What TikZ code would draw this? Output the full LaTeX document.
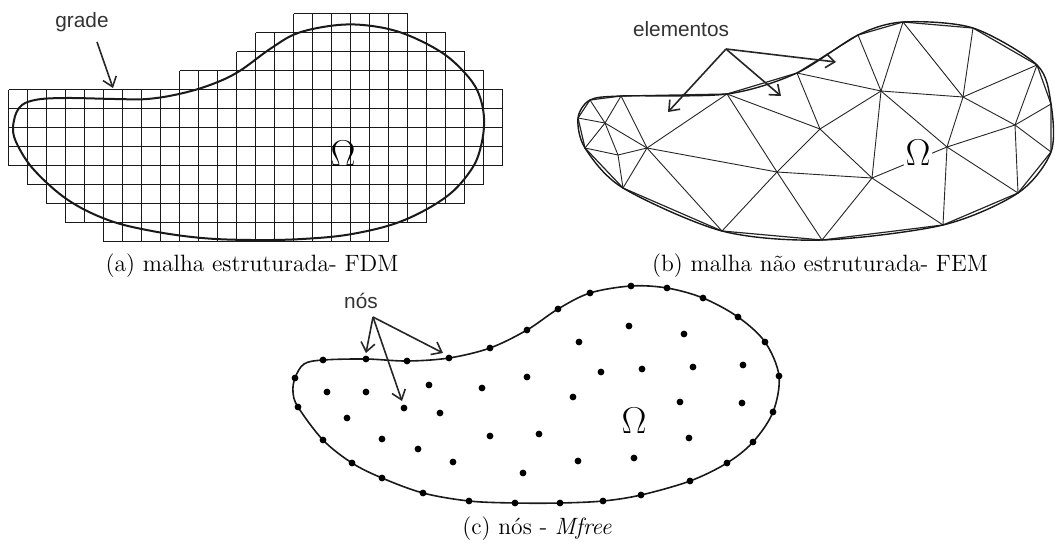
\documentclass[tikz,border=0pt]{standalone}
\usepackage{fontspec}
\newfontfamily\lblfont{Liberation Sans}
\usetikzlibrary{arrows.meta}

\begin{document}
\begin{tikzpicture}[
  x=0.5pt, y=-0.5pt,
  cell/.style={draw=black!90, line width=0.62pt},
  bound/.style={draw=black!90, line width=1pt},
  edge/.style={draw=black!85, line width=0.45pt},
  arr/.style={-{Straight Barb[length=4.5pt, width=7pt]}, line width=0.8pt, black!85},
  lbl/.style={font=\fontsize{10.4}{12}\selectfont\lblfont, text=black!80, inner sep=0pt},
  capt/.style={font=\fontsize{11.8}{14}\selectfont, inner sep=0pt},
  dom/.style={font=\LARGE, scale=1.08, inner sep=0.5pt},
  nd/.style={fill=black},
]
\useasboundingbox (0,0) rectangle (1055,542);

% (a) malha estruturada
\begin{scope}[shift={(8.5,13.5)}, x=9.5pt, y=-9.5pt]
  \foreach \r/\a/\b in {0/15/21, 1/13/23, 2/12/24, 3/9/25, 4/0/26, 5/0/26,
      6/0/26, 7/0/26, 8/1/25, 9/2/24, 10/3/22, 11/5/20} {
    \draw[cell] (\a,\r) -- (\b,\r) (\a,\r+1) -- (\b,\r+1);
    \foreach \c in {\a,...,\b}
      \draw[cell] (\c,\r) -- (\c,\r+1);
  }
\end{scope}
\draw[bound] plot[smooth cycle, tension=0.6] coordinates {
  (13,128) (19,108) (35,100) (66,98) (115,99) (147,99) (179,94) (210,85)
  (238,72) (270,49) (298,33) (338,25) (372,26) (405,34) (441,52) (464,72)
  (478,92) (484,118) (481,146) (471,170) (446,197) (402,221) (352,234)
  (302,239) (252,240) (202,238) (152,231) (108,220) (68,200) (35,171) (18,146)};
\node[dom] (omA) at (343,154) {$\Omega$};
\node[lbl] (grade) at (82,22) {grade};
\coordinate (gradeS) at (97,42);
\coordinate (gradeT) at (113,88);
\draw[arr] (gradeS) -- (gradeT);
\node[capt] (capA) at (252,266) {(a) malha estruturada- FDM};

% (b) malha nao estruturada
\coordinate (b1) at (590,100);  \coordinate (b2) at (621,96);
\coordinate (b3) at (727,94);   \coordinate (b4) at (797,73);
\coordinate (b5) at (858,35);   \coordinate (b6) at (903,22);
\coordinate (b7) at (973,28);   \coordinate (b8) at (1037,65);
\coordinate (b9) at (1051,104); \coordinate (b10) at (1051,152);
\coordinate (b11) at (1018,193); \coordinate (b12) at (943,225);
\coordinate (b13) at (822,240); \coordinate (b14) at (722,231);
\coordinate (b15) at (623,188); \coordinate (b16) at (585,148);
\coordinate (b17) at (578,118);
\coordinate (i1) at (605,123);  \coordinate (i2) at (618,155);
\coordinate (i3) at (647,148);  \coordinate (i4) at (777,172);
\coordinate (i5) at (820,129);  \coordinate (i6) at (881,91);
\coordinate (i7) at (872,178);  \coordinate (i8) at (947,147);
\coordinate (i9) at (963,97);   \coordinate (i10) at (1015,125);
\foreach \p/\q in {b1/i1, b2/i1, b17/i1, b16/i1, i1/i2, i1/i3, b2/i3,
    b16/i2, i2/i3, i2/b15, i3/b15, b3/i3, b3/i4, b3/i5, i3/i4, i3/b14,
    i4/b14, i4/i5, i4/b13, i4/i7, b4/i5, b4/i6, b5/i6, b6/i6, i5/i6,
    i5/i7, i6/i7, i6/i8, i6/i9, b6/i9, b7/i9, b8/i9, i9/i10, i9/i8,
    i8/i10, i8/i7, i7/b13, i7/b12, i8/b12, i8/b11, i10/b11, i10/b8,
    i10/b9, i10/b10}
  \draw[edge] (\p) -- (\q);
\draw[edge, line width=0.6pt] (b1) -- (b2) -- (b3) -- (b4) -- (b5) -- (b6)
  -- (b7) -- (b8) -- (b9) -- (b10) -- (b11) -- (b12) -- (b13) -- (b14)
  -- (b15) -- (b16) -- (b17) -- cycle;
\draw[bound, line width=0.7pt] plot[smooth cycle, tension=0.5] coordinates {
  (b1) (b2) (b3) (b4) (b5) (b6) (b7) (b8) (b9) (b10) (b11) (b12) (b13)
  (b14) (b15) (b16) (b17)};
\node[dom, fill=white] (omB) at (918,153) {$\Omega$};
\node[lbl] (elem) at (681,29) {elementos};
\coordinate (elemS) at (726,49);
\coordinate (elemT1) at (668,112);
\coordinate (elemT2) at (781,96);
\coordinate (elemT3) at (836,62);
\foreach \t in {elemT1, elemT2, elemT3}
  \draw[arr] (elemS) -- (\t);
\node[capt] (capB) at (820,266) {(b) malha não estruturada- FEM};

% (c) nos - Mfree
\draw[bound, line width=0.8pt] plot[smooth cycle, tension=0.55] coordinates {
  (295,378) (304,364) (323,360) (366,359) (407,361) (449,358) (490,348)
  (527,330) (558,309) (590,293) (631,286) (667,288) (703,298) (738,317)
  (765,342) (779,376) (773,412) (753,442) (727,463) (690,481) (641,495)
  (603,501) (560,503) (515,503) (469,501) (423,493) (382,478) (352,463)
  (323,440) (298,407) (293,392)};
\foreach \x/\y in {295/378, 323/360, 366/359, 407/361, 449/358, 490/348,
    527/330, 558/309, 590/293, 631/286, 667/288, 703/298, 738/317,
    765/342, 779/376, 773/412, 753/442, 727/463, 690/481, 641/495,
    603/501, 560/503, 515/503, 469/501, 423/493, 382/478, 352/463,
    323/440, 298/407}
  \fill[nd] (\x,\y) circle [radius=1.7pt];
\foreach \x/\y in {327/392, 366/392, 429/385, 482/388, 527/377, 579/342,
    629/326, 684/334, 601/372, 642/369, 693/367, 743/365, 573/397,
    680/402, 742/403, 347/418, 404/408, 440/413, 382/439, 418/449,
    490/436, 539/434, 689/438, 453/462, 578/461, 634/458, 523/473}
  \fill[nd] (\x,\y) circle [radius=1.7pt];
\node[dom] (omC) at (634,421) {$\Omega$};
\node[lbl] (nos) at (361,301) {nós};
\coordinate (nosS) at (373,317);
\coordinate (nosT1) at (366,353);
\coordinate (nosT2) at (402,401);
\coordinate (nosT3) at (443,353);
\foreach \t in {nosT1, nosT2, nosT3}
  \draw[arr] (nosS) -- (\t);
\node[capt] (capC) at (537,529) {(c) nós - \textit{Mfree}};
\end{tikzpicture}
\end{document}
